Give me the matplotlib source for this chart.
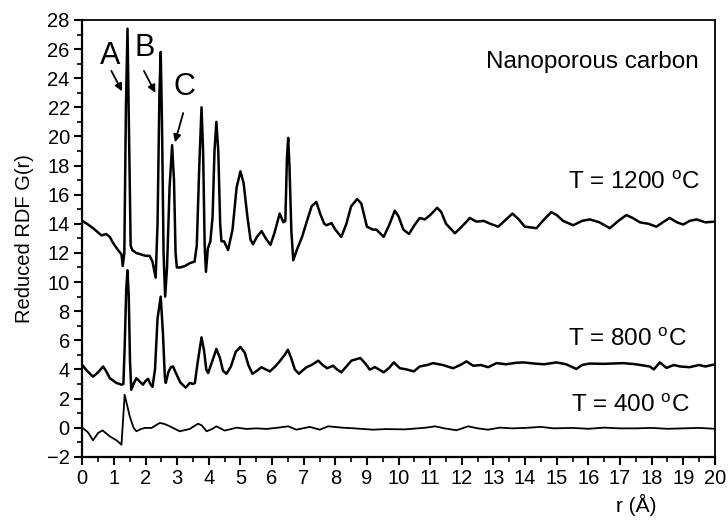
import matplotlib
matplotlib.use("Agg")
import matplotlib.pyplot as plt
from matplotlib.ticker import MultipleLocator

plt.rcParams['font.family'] = ['Liberation Sans', 'DejaVu Sans']
plt.rcParams['mathtext.fontset'] = 'custom'
plt.rcParams['mathtext.rm'] = 'Liberation Sans'

# ---- data ----
r_1200 = [0.0, 0.15, 0.34, 0.5, 0.61, 0.75, 0.87, 0.97, 1.13, 1.24, 1.28, 1.33, 1.38, 1.43, 1.48, 1.53,
          1.58, 1.7, 1.85, 2.0, 2.13, 2.22, 2.32, 2.38, 2.44, 2.48, 2.52, 2.57, 2.62, 2.68, 2.76, 2.84,
          2.9, 2.95, 2.99, 3.1, 3.25, 3.4, 3.55, 3.62, 3.7, 3.77, 3.82, 3.87, 3.91, 3.97, 4.05, 4.12,
          4.18, 4.24, 4.3, 4.36, 4.40, 4.48, 4.61, 4.75, 4.88, 5.0, 5.1, 5.22, 5.32, 5.40, 5.52, 5.67,
          5.8, 5.95, 6.08, 6.24, 6.36, 6.42, 6.47, 6.51, 6.55, 6.61, 6.67, 6.8, 6.95, 7.09, 7.25, 7.40,
          7.52, 7.65, 7.72, 7.88, 8.0, 8.19, 8.35, 8.5, 8.69, 8.82, 8.92, 9.0, 9.19, 9.3, 9.53, 9.7,
          9.88, 10.0, 10.15, 10.33, 10.5, 10.67, 10.83, 11.0, 11.22, 11.35, 11.5, 11.78, 11.95, 12.15,
          12.25, 12.46, 12.69, 12.9, 13.15, 13.35, 13.60, 13.8, 13.99, 14.36, 14.6, 14.83, 15.0, 15.2,
          15.52, 15.8, 16.05, 16.35, 16.68, 16.95, 17.2, 17.4, 17.63, 17.9, 18.15, 18.35, 18.57, 18.8,
          19.0, 19.2, 19.42, 19.7, 20.0]
g_1200 = [14.2, 14.0, 13.7, 13.4, 13.2, 13.3, 13.1, 12.7, 12.2, 11.9, 11.1, 12.0, 22.0, 27.4, 20.0, 12.5,
          12.2, 12.0, 11.9, 11.8, 11.8, 11.4, 10.3, 14.0, 23.0, 25.8, 21.0, 12.0, 9.0, 11.0, 16.5, 19.4,
          17.0, 12.0, 11.0, 11.0, 11.1, 11.3, 11.4, 12.5, 18.0, 22.0, 19.0, 12.5, 10.7, 12.3, 12.8, 14.5,
          19.0, 21.0, 19.0, 14.0, 12.8, 12.8, 12.2, 13.6, 16.5, 17.6, 16.8, 14.5, 12.9, 12.6, 13.1, 13.5,
          13.0, 12.55, 13.4, 14.7, 14.1, 14.2, 18.5, 19.9, 18.0, 13.5, 11.5, 12.3, 13.1, 14.1, 15.2, 15.5,
          14.7, 14.0, 13.9, 14.05, 13.6, 13.1, 14.0, 15.2, 15.7, 15.4, 14.5, 13.8, 13.6, 13.6, 13.1, 13.9,
          14.9, 14.5, 13.6, 13.3, 13.9, 14.4, 14.3, 14.6, 15.1, 14.8, 14.0, 13.35, 13.7, 14.15,
          14.4, 14.15, 14.2, 14.0, 13.8, 14.2, 14.7, 14.3, 13.8, 13.7, 14.3, 14.8, 14.6, 14.2,
          13.9, 14.2, 14.3, 14.1, 13.7, 14.2, 14.6, 14.4, 14.1, 14.0, 13.8, 14.1, 14.4, 14.1,
          13.95, 14.2, 14.3, 14.1, 14.15]

r_800 = [0.0, 0.15, 0.34, 0.5, 0.66, 0.75, 0.87, 1.08, 1.24, 1.3, 1.34, 1.39, 1.43, 1.47, 1.51, 1.55,
         1.62, 1.71, 1.8, 1.92, 2.0, 2.08, 2.15, 2.22, 2.3, 2.38, 2.48, 2.55, 2.61, 2.64, 2.72, 2.8,
         2.87, 2.95, 3.1, 3.27, 3.40, 3.5, 3.56, 3.65, 3.77, 3.85, 3.92, 3.98, 4.1, 4.24, 4.35, 4.45,
         4.56, 4.7, 4.85, 5.0, 5.14, 5.25, 5.38, 5.52, 5.66, 5.8, 5.93, 6.1, 6.24, 6.4, 6.5, 6.6,
         6.72, 6.85, 6.95, 7.09, 7.25, 7.46, 7.6, 7.74, 7.93, 8.05, 8.19, 8.35, 8.51, 8.79, 8.95, 9.09,
         9.25, 9.53, 9.7, 9.85, 10.04, 10.25, 10.48, 10.67, 10.9, 11.09, 11.4, 11.72, 11.95, 12.15,
         12.36, 12.6, 12.83, 13.1, 13.4, 13.7, 13.94, 14.3, 14.6, 14.99, 15.3, 15.62, 15.8, 16.04,
         16.5, 17.1, 17.5, 17.94, 18.07, 18.26, 18.47, 18.7, 18.9, 19.2, 19.5, 19.7, 19.94, 20.0]
g_800 = [4.3, 3.9, 3.5, 3.8, 4.2, 3.9, 3.4, 3.07, 2.95, 3.0, 5.5, 9.5, 10.8, 9.0, 4.5, 2.6,
         3.0, 3.4, 3.2, 2.95, 3.2, 3.35, 3.0, 2.8, 4.0, 7.5, 9.0, 6.5, 3.5, 3.07, 3.8, 4.15,
         4.2, 3.8, 3.1, 2.75, 3.07, 3.0, 3.07, 4.5, 6.2, 5.3, 4.0, 3.75, 4.5, 5.4, 4.8, 3.9,
         3.7, 4.2, 5.2, 5.54, 5.13, 4.3, 3.7, 3.9, 4.15, 4.0, 3.86, 4.2, 4.55, 5.0, 5.35, 4.8,
         4.0, 3.7, 3.9, 4.15, 4.3, 4.6, 4.3, 4.08, 4.25, 4.0, 3.8, 4.2, 4.6, 4.78, 4.4, 3.98,
         4.16, 3.8, 4.1, 4.48, 4.08, 4.0, 3.86, 4.2, 4.3, 4.43, 4.3, 4.08, 4.3, 4.55,
         4.25, 4.3, 4.15, 4.43, 4.35, 4.45, 4.48, 4.4, 4.35, 4.48, 4.35, 4.03, 4.3, 4.4,
         4.38, 4.43, 4.35, 4.2, 4.0, 4.48, 4.1, 4.3, 4.2, 4.15, 4.3, 4.2, 4.32, 4.3]

r_400 = [0.0, 0.18, 0.34, 0.5, 0.64, 0.87, 1.08, 1.24, 1.34, 1.5, 1.62, 1.71, 1.85, 1.98, 2.19, 2.45,
         2.6, 2.77, 3.08, 3.4, 3.66, 3.78, 3.93, 4.1, 4.24, 4.5, 4.7, 4.88, 5.19, 5.5, 5.82, 6.2,
         6.51, 6.77, 7.19, 7.51, 7.77, 8.2, 8.6, 9.19, 9.6, 10.2, 10.88, 11.15, 11.45, 11.83, 12.2,
         12.5, 12.83, 13.2, 13.6, 14.0, 14.5, 14.9, 15.5, 16.0, 16.5, 17.0, 17.5, 18.0, 18.5, 19.0,
         19.5, 20.0]
g_400 = [0.0, -0.32, -0.87, -0.37, -0.19, -0.6, -0.87, -1.17, 2.26, 0.78, 0.0, -0.25, -0.1, -0.02, -0.02, 0.32,
         0.25, 0.09, -0.25, -0.09, 0.27, 0.15, -0.25, -0.1, 0.09, -0.2, -0.1, 0.0, -0.09, -0.05, -0.09, 0.0,
         0.09, -0.14, 0.05, -0.14, 0.09, 0.0, -0.05, -0.14, -0.1, -0.12, 0.0, 0.09, -0.05, -0.18, 0.09,
         -0.05, -0.14, 0.0, -0.05, -0.02, 0.05, -0.05, -0.02, -0.08, 0.0, -0.05, -0.05, -0.02, -0.08, -0.05,
         -0.02, -0.08]

series_labels = ["T = 1200 $^{\\mathrm{o}}$C", "T = 800 $^{\\mathrm{o}}$C", "T = 400 $^{\\mathrm{o}}$C"]
peak_labels = ["A", "B", "C"]
x_ticks = list(range(0, 21))
y_ticks = list(range(-2, 29, 2))

# ---- figure ----
fig = plt.figure(figsize=(7.28, 5.25), dpi=100)
ax = fig.add_axes([0.113, 0.130, 0.869, 0.832])

ax.plot(r_1200, g_1200, color='black', lw=1.8, solid_joinstyle='round')
ax.plot(r_800, g_800, color='black', lw=1.8, solid_joinstyle='round')
ax.plot(r_400, g_400, color='black', lw=1.3, solid_joinstyle='round')

ax.set_xlim(0, 20)
ax.set_ylim(-2, 28)
ax.set_xticks(x_ticks)
ax.set_yticks(y_ticks)
ax.xaxis.set_minor_locator(MultipleLocator(0.5))
ax.yaxis.set_minor_locator(MultipleLocator(1))
ax.tick_params(which='major', direction='out', length=6, width=1.5, labelsize=14.5, pad=3)
ax.tick_params(which='minor', direction='out', length=3.5, width=1.2)
for s in ['left', 'bottom']:
    ax.spines[s].set_linewidth(1.6)
for s in ['top', 'right']:
    ax.spines[s].set_linewidth(1.3)

ax.set_ylabel("Reduced RDF G(r)", fontsize=14.5, labelpad=9)
ax.set_xlabel("r (Å)", fontsize=15)
ax.xaxis.set_label_coords((636 - 82.5) / (715 - 82.5), -0.085)

ax.text(19.5, 25.1, "Nanoporous carbon", fontsize=17.5, ha='right', va='center')
ax.text(19.52, 16.8, series_labels[0], fontsize=17.5, ha='right', va='center')
ax.text(19.1, 6.04, series_labels[1], fontsize=17.5, ha='right', va='center')
ax.text(19.2, 1.53, series_labels[2], fontsize=17.5, ha='right', va='center')

arrow = dict(arrowstyle='-|>', color='black', lw=1.3, mutation_scale=11, shrinkA=0, shrinkB=0)
label_pos = [(0.87, 25.5), (1.98, 26.1), (3.24, 23.4)]
arrow_from = [(0.92, 24.5), (1.95, 24.5), (3.19, 21.6)]
arrow_to = [(1.26, 23.1), (2.31, 23.0), (2.93, 19.6)]
for lab, p, a0, a1 in zip(peak_labels, label_pos, arrow_from, arrow_to):
    ax.text(p[0], p[1], lab, fontsize=22, ha='center', va='center')
    ax.annotate("", xy=a1, xytext=a0, arrowprops=arrow)

fig.savefig("out.png", dpi=100)
